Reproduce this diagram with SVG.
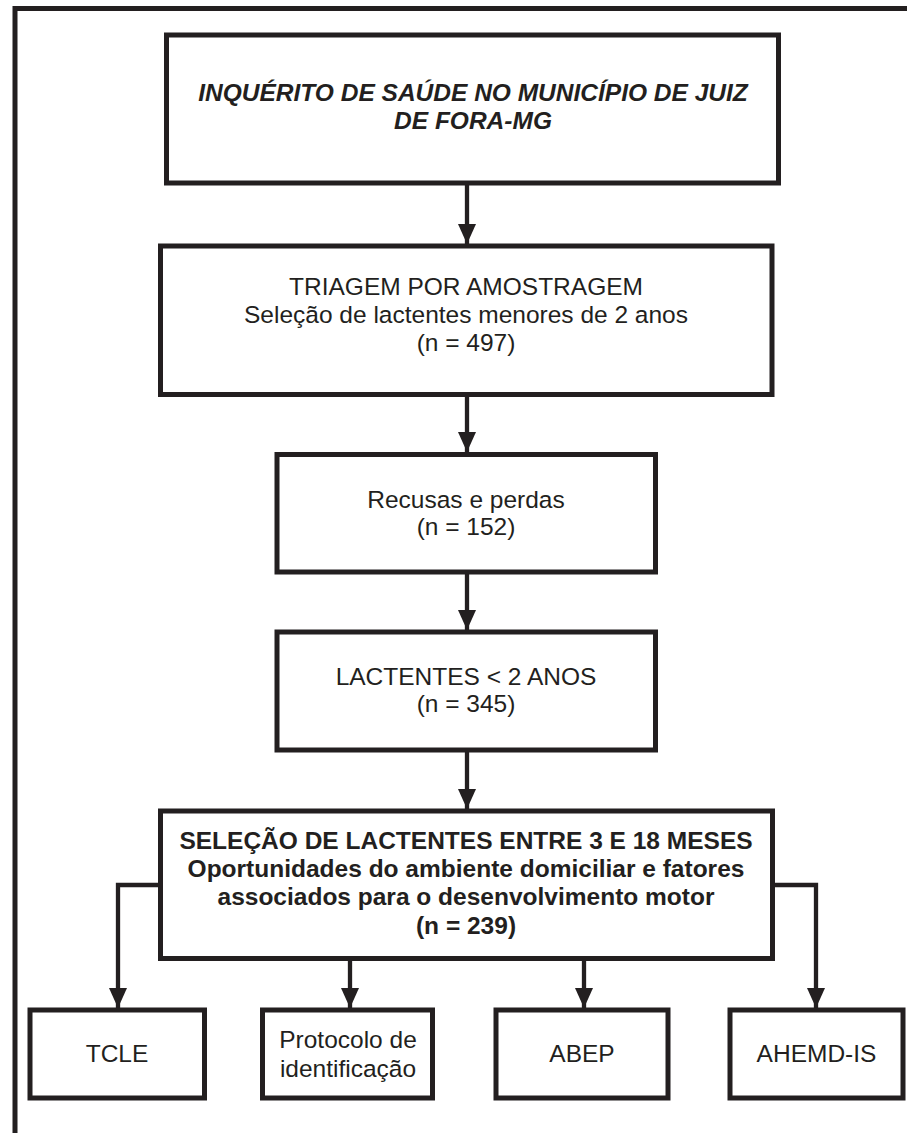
<svg xmlns="http://www.w3.org/2000/svg" width="907" height="1133" viewBox="0 0 907 1133">
  <style>
    .box { fill: #ffffff; stroke: #231f20; stroke-width: 5; }
    .frame { fill: none; stroke: #231f20; stroke-width: 5; stroke-linejoin: miter; }
    .conn { fill: none; stroke: #231f20; stroke-width: 4.3; stroke-linejoin: miter; }
    .t { font-family: "Liberation Sans", Arial, sans-serif; font-size: 24.5px; fill: #231f20; text-anchor: middle; }
    .b { font-weight: bold; }
    .bi { font-weight: bold; font-style: italic; }
  </style>
  <defs>
    <marker id="arrow" viewBox="0 0 20 18" refX="20" refY="9" markerWidth="20" markerHeight="18" markerUnits="userSpaceOnUse" orient="auto">
      <path d="M0,0 L20,9 L0,18 Z" fill="#231f20"/>
    </marker>
  </defs>
  <rect width="907" height="1133" fill="#ffffff"/>
  <path class="frame" d="M15,1133 V8.5 H909"/>

  <g id="connectors">
    <line class="conn" x1="467" y1="184" x2="467" y2="244" marker-end="url(#arrow)"/>
    <line class="conn" x1="467" y1="396" x2="467" y2="452" marker-end="url(#arrow)"/>
    <line class="conn" x1="467" y1="574" x2="467" y2="630" marker-end="url(#arrow)"/>
    <line class="conn" x1="467" y1="752" x2="467" y2="809" marker-end="url(#arrow)"/>
    <path class="conn" d="M158,885 H118 V1008" marker-end="url(#arrow)"/>
    <path class="conn" d="M774,885 H816 V1008" marker-end="url(#arrow)"/>
    <line class="conn" x1="350" y1="960" x2="350" y2="1008" marker-end="url(#arrow)"/>
    <line class="conn" x1="584" y1="960" x2="584" y2="1008" marker-end="url(#arrow)"/>
  </g>

  <g id="node-inquerito">
    <rect class="box" x="166.5" y="35" width="612" height="148"/>
    <text class="t bi" x="473" y="101">INQUÉRITO DE SAÚDE NO MUNICÍPIO DE JUIZ</text>
    <text class="t bi" x="473" y="129">DE FORA-MG</text>
  </g>

  <g id="node-triagem">
    <rect class="box" x="160.5" y="246" width="611.5" height="148.5"/>
    <text class="t" x="466" y="295">TRIAGEM POR AMOSTRAGEM</text>
    <text class="t" x="466" y="323">Seleção de lactentes menores de 2 anos</text>
    <text class="t" x="466" y="351">(n = 497)</text>
  </g>

  <g id="node-recusas">
    <rect class="box" x="277" y="454.5" width="378.5" height="117.5"/>
    <text class="t" x="466" y="508">Recusas e perdas</text>
    <text class="t" x="466" y="535">(n = 152)</text>
  </g>

  <g id="node-lactentes">
    <rect class="box" x="277" y="632" width="378.5" height="118"/>
    <text class="t" x="466" y="685">LACTENTES &lt; 2 ANOS</text>
    <text class="t" x="466" y="712">(n = 345)</text>
  </g>

  <g id="node-selecao">
    <rect class="box" x="160.5" y="811" width="612" height="147.5"/>
    <text class="t b" x="466" y="849">SELEÇÃO DE LACTENTES ENTRE 3 E 18 MESES</text>
    <text class="t b" x="466" y="877">Oportunidades do ambiente domiciliar e fatores</text>
    <text class="t b" x="466" y="905">associados para o desenvolvimento motor</text>
    <text class="t b" x="466" y="934">(n = 239)</text>
  </g>

  <g id="node-tcle">
    <rect class="box" x="30" y="1010" width="174.5" height="88"/>
    <text class="t" x="117" y="1062">TCLE</text>
  </g>

  <g id="node-protocolo">
    <rect class="box" x="262.5" y="1010" width="170" height="88"/>
    <text class="t" x="348" y="1048">Protocolo de</text>
    <text class="t" x="348" y="1077">identificação</text>
  </g>

  <g id="node-abep">
    <rect class="box" x="496" y="1010" width="172" height="88"/>
    <text class="t" x="582" y="1062">ABEP</text>
  </g>

  <g id="node-ahemd">
    <rect class="box" x="730" y="1010" width="173" height="88"/>
    <text class="t" x="816.5" y="1062">AHEMD-IS</text>
  </g>
</svg>
